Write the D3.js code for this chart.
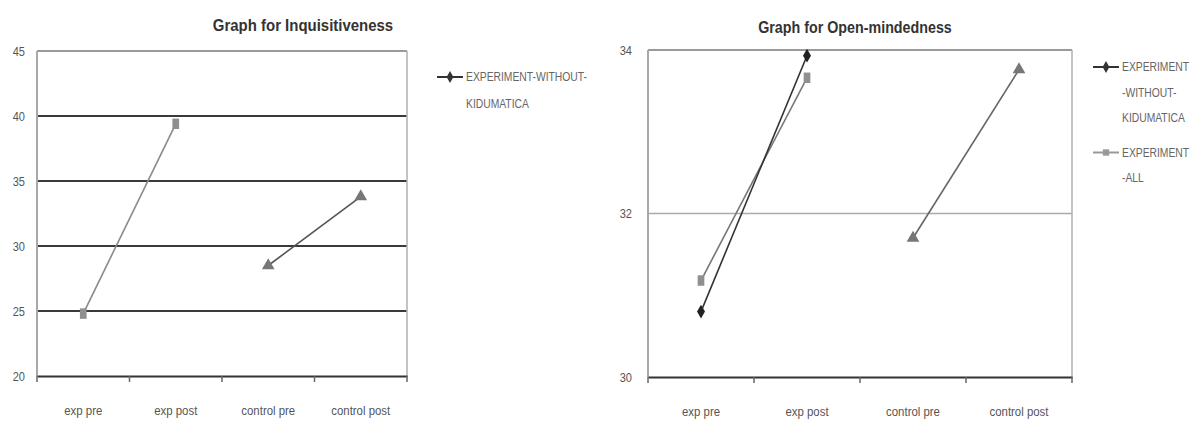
<!DOCTYPE html>
<html><head><meta charset="utf-8">
<script src="https://cdn.jsdelivr.net/npm/d3@7"></script>
<style>
body{margin:0;background:#fff;}
text{font-family:"Liberation Sans Narrow","Arial Narrow","Liberation Sans",sans-serif;}
</style></head>
<body>
<svg id="c" width="1203" height="427"></svg>
<script>
const categories = ["exp pre","exp post","control pre","control post"];
// Inquisitiveness
const inqTicks = [20,25,30,35,40,45];
const inqExpAll = [24.8, 39.4, null, null];
const inqControl = [null, null, 28.5, 33.8];
const inqLegend = [["EXPERIMENT-WITHOUT-","KIDUMATICA"]];
// Open-mindedness
const omTicks = [30,32,34];
const omExpWithout = [30.8, 33.93, null, null];
const omExpAll = [31.18, 33.66, null, null];
const omControl = [null, null, 31.7, 33.76];
const omLegend = [["EXPERIMENT","-WITHOUT-","KIDUMATICA"],["EXPERIMENT","-ALL"]];

const svg = d3.select("#c");

function condense(sel, f){
  sel.each(function(){
    const w = this.getComputedTextLength();
    d3.select(this).attr("textLength", w*f).attr("lengthAdjust","spacingAndGlyphs");
  });
}

function chart(cfg){
  const g = svg.append("g");
  const x = d3.scaleBand().domain(categories).range([cfg.x0, cfg.x1]);
  const y = d3.scaleLinear().domain(cfg.domain).range([cfg.yb, cfg.yt]);
  cfg.ticks.forEach(t=>{
    if (t===cfg.domain[0]) return;
    const top = t===cfg.domain[1];
    g.append("line").attr("x1",cfg.x0).attr("x2",cfg.x1).attr("y1",y(t)).attr("y2",y(t))
      .attr("stroke", top ? "#9a9a9a" : cfg.gridColor).attr("stroke-width", top?2:cfg.gridWidth);
  });
  g.append("line").attr("x1",cfg.x0).attr("x2",cfg.x0).attr("y1",y(cfg.domain[1])).attr("y2",y(cfg.domain[0]))
    .attr("stroke","#a8a8a8").attr("stroke-width",2);
  g.append("line").attr("x1",cfg.x1).attr("x2",cfg.x1).attr("y1",y(cfg.domain[1])).attr("y2",y(cfg.domain[0]))
    .attr("stroke","#b0b0b0").attr("stroke-width",1.5);
  const ya = d3.axisLeft(y).tickValues(cfg.ticks).tickFormat(d3.format("d")).tickSize(0).tickPadding(cfg.yPad);
  const yg = g.append("g").attr("transform",`translate(${cfg.x0},0)`).call(ya);
  yg.select(".domain").remove();
  yg.selectAll("text").attr("font-size",13).attr("fill","#555").call(condense,0.85);
  const xa = d3.axisBottom(x).tickSize(0).tickPadding(30);
  const xg = g.append("g").attr("transform",`translate(0,${cfg.yb})`).call(xa);
  xg.select(".domain").attr("stroke","#333").attr("stroke-width",2);
  xg.selectAll("text").attr("font-size",12).attr("fill","#555").call(condense,0.95);
  const bounds = categories.map(c=>x(c)).concat([cfg.x1]);
  g.selectAll(".tk"+cfg.id).data(bounds).enter().append("line")
    .attr("x1",d=>d).attr("x2",d=>d).attr("y1",cfg.yb).attr("y2",cfg.yb+6)
    .attr("stroke","#666").attr("stroke-width",1.5);
  g.append("text").attr("x",cfg.titleX).attr("y",cfg.titleY).attr("text-anchor","middle")
    .attr("font-size",17).attr("font-weight","bold").attr("fill","#333").text(cfg.title)
    .call(condense,cfg.titleF);
  const cx = c => x(c)+x.bandwidth()/2;
  cfg.series.forEach(s=>{
    const pts = categories.map((c,i)=>({c, v:s.values[i]})).filter(d=>d.v!=null);
    const line = d3.line().x(d=>cx(d.c)).y(d=>y(d.v));
    g.append("path").attr("d",line(pts)).attr("fill","none").attr("stroke",s.color).attr("stroke-width",1.6);
    pts.forEach(d=>{
      const sym = d3.symbol().type(s.symbol).size(s.size)();
      g.append("path").attr("d",sym).attr("transform",`translate(${cx(d.c)},${y(d.v)})${s.symbol===d3.symbolSquare?" scale(0.8,1.25)":""}`)
        .attr("fill",s.mcolor);
    });
  });
  let ly = cfg.legY;
  cfg.legend.forEach((lines,i)=>{
    const col = cfg.legColors[i];
    g.append("line").attr("x1",cfg.legX).attr("x2",cfg.legX+26).attr("y1",ly).attr("y2",ly)
      .attr("stroke",col).attr("stroke-width",2);
    g.append("path").attr("d",d3.symbol().type(cfg.legSym[i]).size(40)())
      .attr("transform",`translate(${cfg.legX+13},${ly})`).attr("fill",col);
    lines.forEach((t,j)=>{
      g.append("text").attr("x",cfg.legX+29).attr("y",ly+j*cfg.legLH).attr("dy","0.35em")
        .attr("font-size",12).attr("fill","#666").text(t).call(condense,0.86);
    });
    ly += lines.length*cfg.legLH + cfg.legGap;
  });
}

chart({id:"a", x0:37, x1:407, yb:376, yt:51, domain:[20,45], ticks:inqTicks,
  gridColor:"#3a3a3a", gridWidth:2, yPad:12,
  title:"Graph for Inquisitiveness", titleX:303, titleY:31, titleF:0.88,
  series:[
    {values:inqExpAll, color:"#8a8a8a", mcolor:"#8f8f8f", symbol:d3.symbolSquare, size:70},
    {values:inqControl, color:"#555", mcolor:"#777", symbol:d3.symbolTriangle, size:70}
  ],
  legend:inqLegend, legColors:["#333"], legSym:[d3.symbolDiamond], legX:437, legY:77, legLH:27, legGap:8
});

chart({id:"b", x0:648, x1:1072, yb:377, yt:50, domain:[30,34], ticks:omTicks,
  gridColor:"#aaaaaa", gridWidth:1.5, yPad:16,
  title:"Graph for Open-mindedness", titleX:855, titleY:33, titleF:0.84,
  series:[
    {values:omExpAll, color:"#777", mcolor:"#8f8f8f", symbol:d3.symbolSquare, size:70},
    {values:omExpWithout, color:"#333", mcolor:"#222", symbol:d3.symbolDiamond, size:55},
    {values:omControl, color:"#666", mcolor:"#777", symbol:d3.symbolTriangle, size:70}
  ],
  legend:omLegend, legColors:["#333","#999"], legSym:[d3.symbolDiamond, d3.symbolSquare], legX:1093, legY:67, legLH:25.5, legGap:9
});
</script>
</body></html>
